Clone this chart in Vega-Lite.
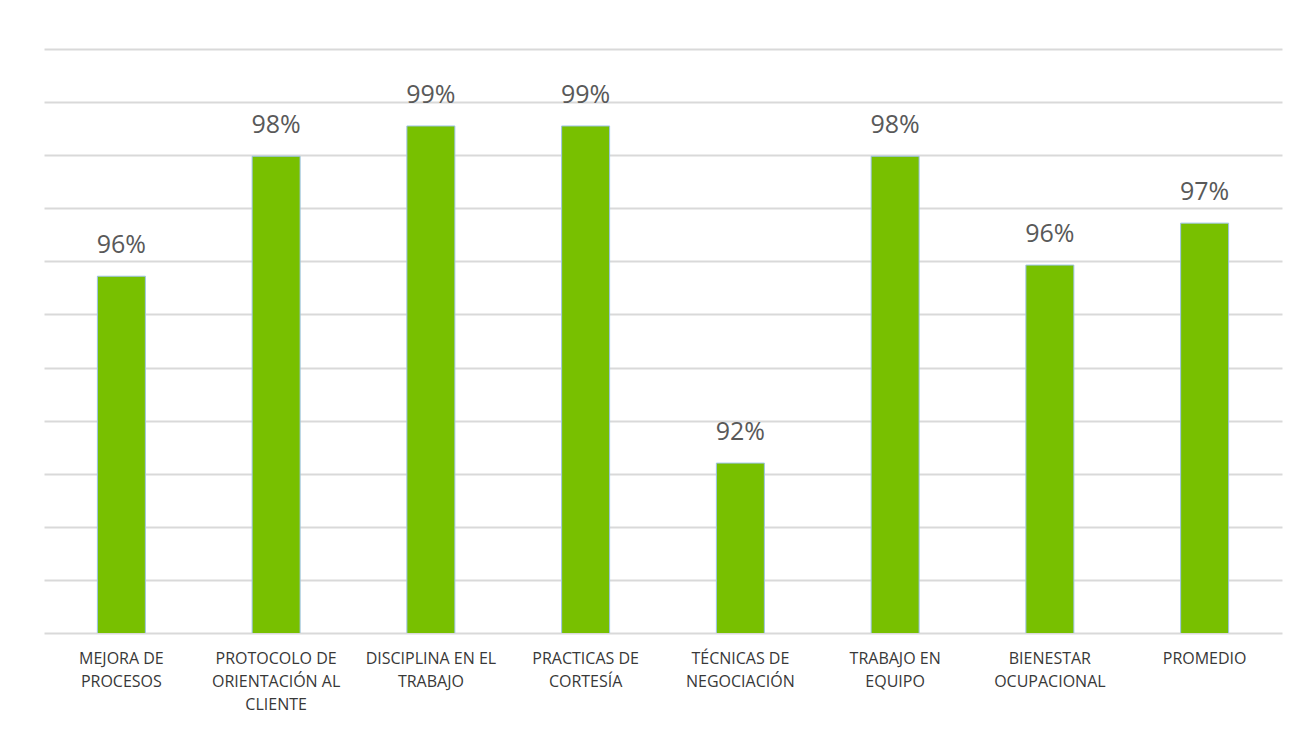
{
  "$schema": "https://vega.github.io/schema/vega-lite/v6.json",
  "autosize": "none",
  "width": 1238,
  "height": 584,
  "padding": {"left": 44, "top": 49, "right": 22, "bottom": 101},
  "background": "white",
  "config": {
    "view": {"stroke": null},
    "font": "Open Sans"
  },
  "data": {
    "values": [
      {"categoria": "MEJORA DE PROCESOS", "valor": 0.9572},
      {"categoria": "PROTOCOLO DE ORIENTACIÓN AL CLIENTE", "valor": 0.9798},
      {"categoria": "DISCIPLINA EN EL TRABAJO", "valor": 0.9855},
      {"categoria": "PRACTICAS DE CORTESÍA", "valor": 0.9855},
      {"categoria": "TÉCNICAS DE NEGOCIACIÓN", "valor": 0.922},
      {"categoria": "TRABAJO EN EQUIPO", "valor": 0.9798},
      {"categoria": "BIENESTAR OCUPACIONAL", "valor": 0.9593},
      {"categoria": "PROMEDIO", "valor": 0.9672}
    ]
  },
  "encoding": {
    "x": {
      "field": "categoria",
      "type": "nominal",
      "sort": null,
      "scale": {"paddingInner": 0.69, "paddingOuter": 0.345},
      "axis": {
        "title": null,
        "labelAngle": 0,
        "domain": false,
        "ticks": false,
        "labelPadding": 17,
        "labelFontSize": 16,
        "labelColor": "#383838",
        "labelLineHeight": 23,
        "labelLimit": 200,
        "labelExpr": "{'MEJORA DE PROCESOS': ['MEJORA DE', 'PROCESOS'], 'PROTOCOLO DE ORIENTACIÓN AL CLIENTE': ['PROTOCOLO DE', 'ORIENTACIÓN AL', 'CLIENTE'], 'DISCIPLINA EN EL TRABAJO': ['DISCIPLINA EN EL', 'TRABAJO'], 'PRACTICAS DE CORTESÍA': ['PRACTICAS DE', 'CORTESÍA'], 'TÉCNICAS DE NEGOCIACIÓN': ['TÉCNICAS DE', 'NEGOCIACIÓN'], 'TRABAJO EN EQUIPO': ['TRABAJO EN', 'EQUIPO'], 'BIENESTAR OCUPACIONAL': ['BIENESTAR', 'OCUPACIONAL'], 'PROMEDIO': ['PROMEDIO']}[datum.value]"
      }
    },
    "y": {
      "field": "valor",
      "type": "quantitative",
      "scale": {"domain": [0.89, 1.0], "nice": false, "zero": false},
      "axis": {
        "title": null,
        "labels": false,
        "ticks": false,
        "domain": false,
        "grid": true,
        "gridColor": "#d9d9d9",
        "gridWidth": 2,
        "values": [0.89, 0.90, 0.91, 0.92, 0.93, 0.94, 0.95, 0.96, 0.97, 0.98, 0.99, 1.0]
      }
    }
  },
  "layer": [
    {
      "mark": {"type": "bar", "color": "#78c000", "stroke": "#9dc3e6", "strokeWidth": 1, "clip": true}
    },
    {
      "mark": {"type": "text", "baseline": "bottom", "dy": -18, "fontSize": 25, "color": "#595959"},
      "encoding": {
        "text": {"field": "valor", "type": "quantitative", "format": ".0%"}
      }
    }
  ]
}
